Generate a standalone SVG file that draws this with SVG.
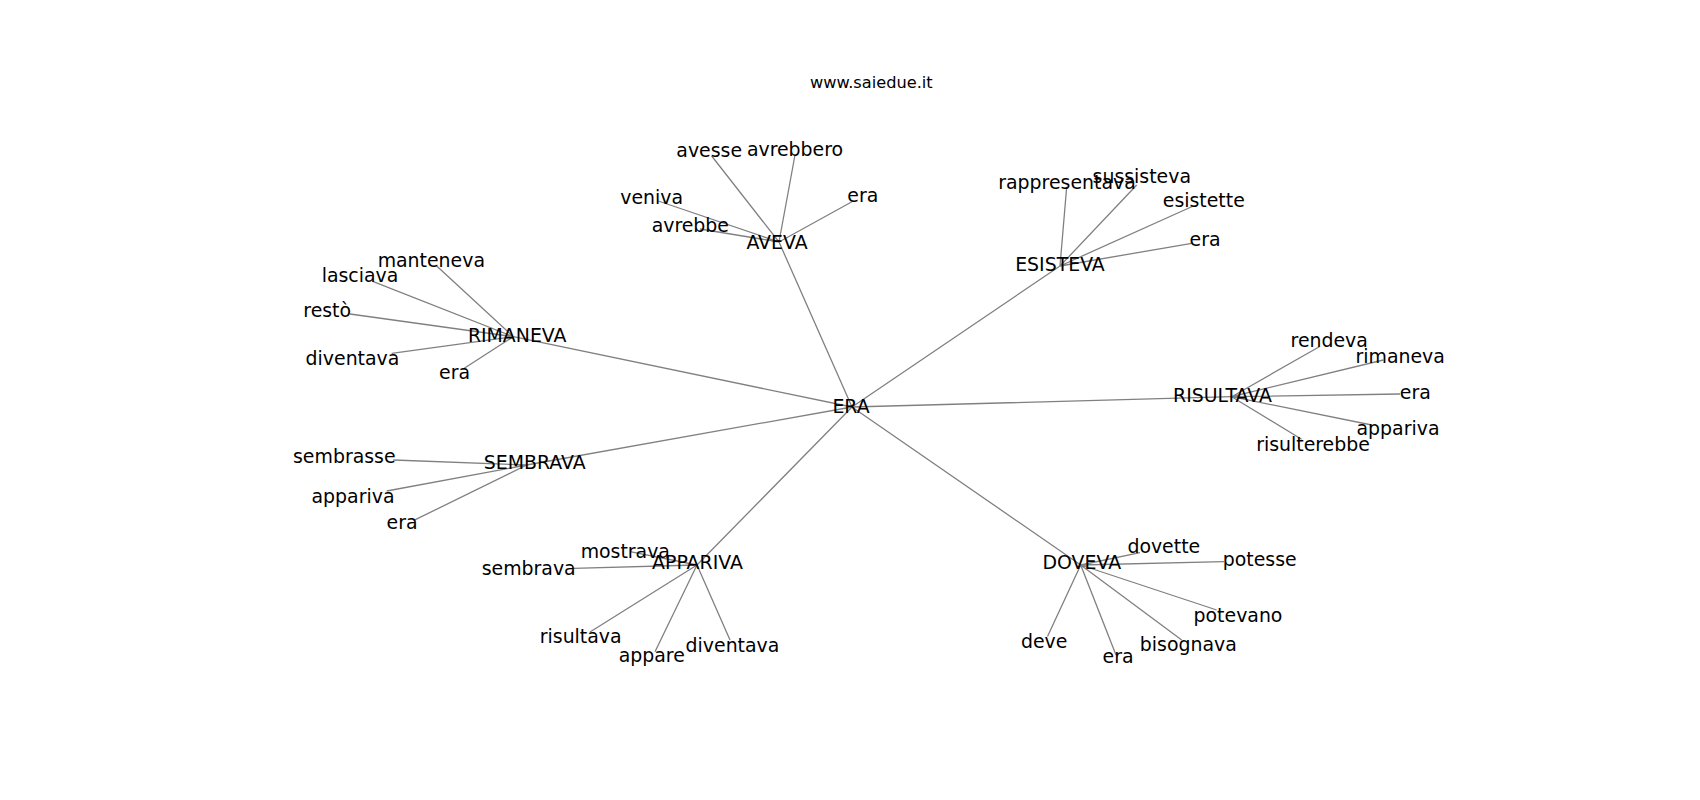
<svg xmlns="http://www.w3.org/2000/svg" width="1700" height="800" viewBox="0 0 1700 800">
<style>
.e{stroke:#808080;stroke-width:1.3;fill:none}
text{font-family:"DejaVu Sans",sans-serif;font-size:18.9px;fill:#000;text-anchor:middle}
.t{font-size:16.2px}
</style>
<rect width="1700" height="800" fill="#fff"/>
<text class="t" x="871.3" y="88.3">www.saiedue.it</text>
<g id="connectors">
<path class="e" d="M852,407L779,242M852,407L1060,266M852,407L513.3,336.7M852,407L1231.7,396.7M852,407L526.7,465M852,407L697,565M852,407L1080.7,565"/>
<path class="e" d="M779,242L711.7,156M779,242L795,155M779,242L658.3,201M779,242L700,229M779,242L853.3,201"/>
<path class="e" d="M1060,266L1066.7,186.7M1060,266L1136.7,185M1060,266L1193.3,206M1060,266L1191.7,243.3"/>
<path class="e" d="M513.3,336.7L436.7,266M513.3,336.7L373.3,281.7M513.3,336.7L350,314M513.3,336.7L391.7,353.3M513.3,336.7L462.7,369.3"/>
<path class="e" d="M1231.7,396.7L1319.3,346.7M1231.7,396.7L1383.3,360M1231.7,396.7L1400,394M1231.7,396.7L1371.7,425M1231.7,396.7L1301.6,439.3"/>
<path class="e" d="M526.7,465L393.3,460M526.7,465L386.7,491M526.7,465L413.3,520.7"/>
<path class="e" d="M697,565L630,551.7M697,565L573.3,568.3M697,565L590,632M697,565L655,651.7M697,565L730,640"/>
<path class="e" d="M1080.7,565L1140,552.7M1080.7,565L1224,561.7M1080.7,565L1216.7,610M1080.7,565L1181.7,640M1080.7,565L1116,655M1080.7,565L1047.5,636.5"/>
</g>
<g id="n-ERA"><text x="851" y="412.5">ERA</text></g>
<g id="n-AVEVA"><text x="777" y="249.3">AVEVA</text></g>
<g id="n-avesse"><text x="709.2" y="156.7">avesse</text></g>
<g id="n-avrebbero"><text x="795" y="155.7">avrebbero</text></g>
<g id="n-veniva"><text x="651.7" y="204">veniva</text></g>
<g id="n-aveva-era"><text x="862.8" y="202.3">era</text></g>
<g id="n-avrebbe"><text x="690.3" y="231.7">avrebbe</text></g>
<g id="n-ESISTEVA"><text x="1060" y="271">ESISTEVA</text></g>
<g id="n-rappresentava"><text x="1067" y="189.3">rappresentava</text></g>
<g id="n-sussisteva"><text x="1141.8" y="183.3">sussisteva</text></g>
<g id="n-esistette"><text x="1203.8" y="206.7">esistette</text></g>
<g id="n-esisteva-era"><text x="1205" y="245.7">era</text></g>
<g id="n-RIMANEVA"><text x="517.2" y="341.7">RIMANEVA</text></g>
<g id="n-manteneva"><text x="431.3" y="267.3">manteneva</text></g>
<g id="n-lasciava"><text x="360" y="282.3">lasciava</text></g>
<g id="n-resto"><text x="327.2" y="317.3">restò</text></g>
<g id="n-rimaneva-diventava"><text x="352.5" y="365">diventava</text></g>
<g id="n-rimaneva-era"><text x="454.5" y="379.3">era</text></g>
<g id="n-RISULTAVA"><text x="1222.5" y="402.3">RISULTAVA</text></g>
<g id="n-rendeva"><text x="1329.2" y="346.7">rendeva</text></g>
<g id="n-rimaneva"><text x="1400.2" y="362.7">rimaneva</text></g>
<g id="n-risultava-era"><text x="1415.3" y="399">era</text></g>
<g id="n-risultava-appariva"><text x="1398" y="435">appariva</text></g>
<g id="n-risulterebbe"><text x="1313" y="451.2">risulterebbe</text></g>
<g id="n-SEMBRAVA"><text x="534.7" y="469.3">SEMBRAVA</text></g>
<g id="n-sembrasse"><text x="344.3" y="463.3">sembrasse</text></g>
<g id="n-sembrava-appariva"><text x="353" y="502.7">appariva</text></g>
<g id="n-sembrava-era"><text x="402" y="529.3">era</text></g>
<g id="n-APPARIVA"><text x="697.5" y="569">APPARIVA</text></g>
<g id="n-mostrava"><text x="625.3" y="558.3">mostrava</text></g>
<g id="n-sembrava"><text x="528.7" y="575">sembrava</text></g>
<g id="n-risultava"><text x="580.7" y="643.3">risultava</text></g>
<g id="n-appare"><text x="651.7" y="661.7">appare</text></g>
<g id="n-appariva-diventava"><text x="732.5" y="651.7">diventava</text></g>
<g id="n-DOVEVA"><text x="1081.8" y="569">DOVEVA</text></g>
<g id="n-dovette"><text x="1163.8" y="552.7">dovette</text></g>
<g id="n-potesse"><text x="1259.7" y="565.7">potesse</text></g>
<g id="n-potevano"><text x="1238" y="622.3">potevano</text></g>
<g id="n-bisognava"><text x="1188.3" y="650.7">bisognava</text></g>
<g id="n-doveva-era"><text x="1118" y="663.3">era</text></g>
<g id="n-deve"><text x="1044.2" y="648.3">deve</text></g>
</svg>
